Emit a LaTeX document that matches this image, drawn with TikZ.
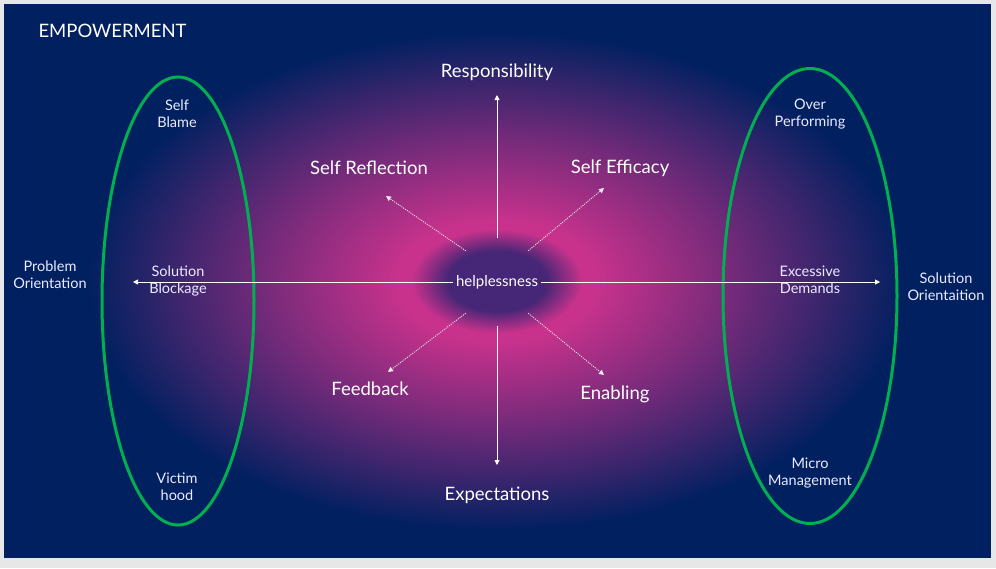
\documentclass[tikz,border=0pt]{standalone}
\usepackage{fontspec}
\setmainfont{Lato}
\usetikzlibrary{arrows.meta,shapes.geometric}
\definecolor{navy}{HTML}{002060}
\definecolor{frame}{HTML}{E7E7E7}
\definecolor{ringgreen}{HTML}{00B050}
\definecolor{core}{RGB}{70,38,118}
\definecolor{glowpink}{RGB}{200,50,140}
\colorlet{glowmid}{glowpink!65!navy}
\colorlet{glowout}{glowpink!28!navy}
\pgfdeclareradialshading{glow}{\pgfpoint{0bp}{0bp}}{%
  color(0bp)=(core); color(3bp)=(core); color(5.2bp)=(glowpink);
  color(6bp)=(glowpink); color(13bp)=(glowmid); color(20bp)=(glowout);
  color(25bp)=(navy); color(75bp)=(navy)}

\begin{document}
\begin{tikzpicture}[x=1pt,y=-1pt,
    mainlbl/.style={text=white, font=\fontsize{18.5}{22}\selectfont},
    sidelbl/.style={text=white!92!blue, font=\fontsize{14.5}{17}\selectfont, align=center},
    axis/.style={white, line width=0.9pt, -{Triangle[length=5pt,width=5pt]}},
    spoke/.style={white!85!gray, line width=0.9pt, dash pattern=on 1pt off 1.2pt, -{Triangle[length=5pt,width=5pt]}},
    greenring/.style={draw=ringgreen, line width=3pt, ellipse, inner sep=0pt, outer sep=0pt}]
  % background
  \fill[frame] (0,0) rectangle (996,568);
  \fill[navy] (4,4) rectangle (991,558);
  \shade[shading=glow] (497,281) ellipse [x radius=410pt, y radius=250pt];

  \node[mainlbl, anchor=west] (title) at (35,31) {EMPOWERMENT};

  % green rings
  \node[greenring, minimum width=152pt, minimum height=448pt] (leftring) at (178,301) {};
  \node[greenring, minimum width=174pt, minimum height=455pt] (rightring) at (810,296) {};

  % centre and the four directions
  \node[circle, minimum size=88pt, inner sep=0pt, text=white, font=\fontsize{15}{18}\selectfont] (help) at (497,282) {helplessness};
  \node[mainlbl] (resp) at (497,72) {Responsibility};
  \node[mainlbl] (expect) at (497,495) {Expectations};
  \node[mainlbl] (reflect) at (369,168) {Self Reflection};
  \node[mainlbl] (efficacy) at (620,168) {Self Efficacy};
  \node[mainlbl] (feedback) at (370,389) {Feedback};
  \node[mainlbl] (enabling) at (615,394) {Enabling};

  % side labels
  \node[sidelbl] (blame) at (177,114) {Self\\Blame};
  \node[sidelbl] (blockage) at (178,281) {Solution\\Blockage};
  \node[sidelbl] (victim) at (177,487) {Victim\\hood};
  \node[sidelbl] (problem) at (50,275) {Problem\\Orientation};
  \node[sidelbl] (over) at (810,114) {Over\\Performing};
  \node[sidelbl] (demands) at (810,280) {Excessive\\Demands};
  \node[sidelbl] (micro) at (810,473) {Micro\\Management};
  \node[sidelbl] (solution) at (946,287) {Solution\\Orientaition};

  \coordinate (upend) at (497,95);
  \coordinate (downend) at (497,465);
  \coordinate (leftend) at (133,282);
  \coordinate (rightend) at (880,282);
  \coordinate (nwend) at (386,196);
  \coordinate (neend) at (604,188);
  \coordinate (swend) at (388,372);
  \coordinate (seend) at (604,375);

  \draw[axis] (help.north) -- (upend);
  \draw[axis] (help.south) -- (downend);
  \draw[axis] (help.west) -- (leftend);
  \draw[axis] (help.east) -- (rightend);
  \draw[spoke] (help.north west) -- (nwend);
  \draw[spoke] (help.north east) -- (neend);
  \draw[spoke] (help.south west) -- (swend);
  \draw[spoke] (help.south east) -- (seend);
\end{tikzpicture}
\end{document}
